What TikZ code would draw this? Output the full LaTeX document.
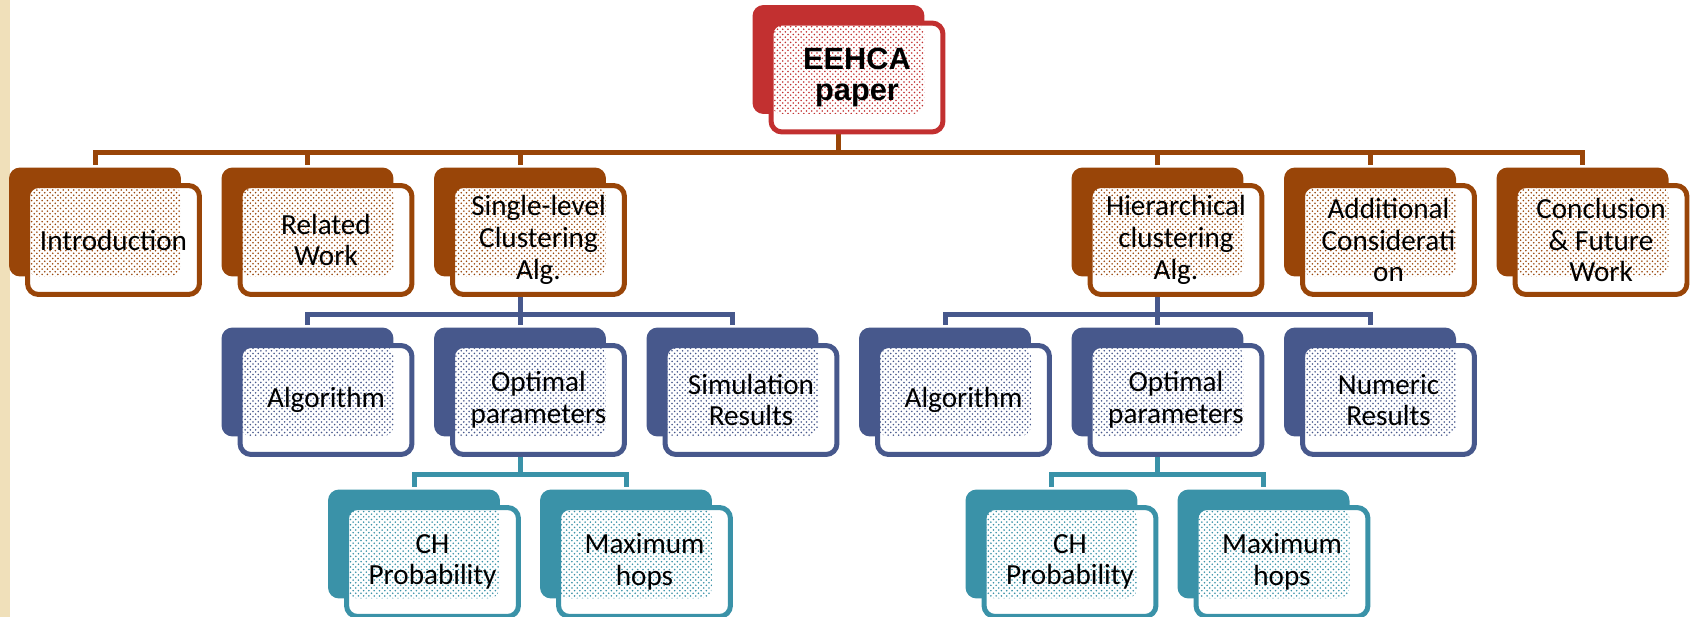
\documentclass[tikz,border=0pt]{standalone}
\usepackage{fontspec}
\setmainfont{Carlito}
\newfontfamily\rootfont{Liberation Sans}
\usepackage{tikz}
\usetikzlibrary{shadows,patterns,backgrounds}

\definecolor{rootred}{RGB}{194,48,48}
\definecolor{lvone}{RGB}{153,69,8}
\definecolor{lvtwo}{RGB}{71,88,140}
\definecolor{lvthree}{RGB}{58,146,168}
\definecolor{stripbeige}{RGB}{240,224,186}

\begin{document}
\begin{tikzpicture}[x=0.02cm,y=-0.02cm,
  tile/.style={draw=#1,fill=white,line width=0.1cm,rounded corners=0.22cm,
    minimum width=3.44cm,minimum height=2.18cm,align=center,inner sep=0pt,
    font=\fontsize{16.6}{18}\selectfont,
    copy shadow={shadow xshift=-0.37cm,shadow yshift=0.36cm,fill=#1,draw=none},
    path picture={\fill[pattern=crosshatch dots,pattern color=#1]
      (path picture bounding box.north west) rectangle
      ([xshift=-0.37cm,yshift=0.36cm]path picture bounding box.south east);}},
  bus/.style={draw=#1,line width=0.1cm}]
\useasboundingbox (0,0) rectangle (1691,617);
\fill[stripbeige] (0,0) rectangle (10,617);
% top
\node[tile=rootred,font=\rootfont\bfseries\fontsize{17.5}{18}\selectfont] (root) at (857,77.5) {EEHCA\\paper};
% chapters
\node[tile=lvone] (intro) at (113.5,240) {Introduction};
\node[tile=lvone] (related) at (326,240) {Related\\Work};
\node[tile=lvone] (single) at (538.5,240) {Single-level\\Clustering\\Alg.};
\node[tile=lvone] (hier) at (1176,240) {Hierarchical\\clustering\\Alg.};
\node[tile=lvone] (addit) at (1388.5,240) {Additional\\Considerati\\on};
\node[tile=lvone] (concl) at (1601,240) {Conclusion\\\& Future\\Work};
% sections
\node[tile=lvtwo] (s-alg) at (326,400) {Algorithm};
\node[tile=lvtwo] (s-opt) at (538.5,400) {Optimal\\parameters};
\node[tile=lvtwo] (s-sim) at (751,400) {Simulation\\Results};
\node[tile=lvtwo] (h-alg) at (963.5,400) {Algorithm};
\node[tile=lvtwo] (h-opt) at (1176,400) {Optimal\\parameters};
\node[tile=lvtwo] (h-num) at (1388.5,400) {Numeric\\Results};
% parameters
\node[tile=lvthree] (s-ch) at (432.5,562) {CH\\Probability};
\node[tile=lvthree] (s-hops) at (644.5,562) {Maximum\\hops};
\node[tile=lvthree] (h-ch) at (1070,562) {CH\\Probability};
\node[tile=lvthree] (h-hops) at (1282,562) {Maximum\\hops};
\begin{scope}[on background layer]
  \draw[bus=lvone] ([xshift=-0.37cm]root.south) -- ++(0,-0.37cm) -| ([xshift=-0.37cm,yshift=0.36cm]intro.north);
  \draw[bus=lvone] ([xshift=-0.37cm]root.south) -- ++(0,-0.37cm) -| ([xshift=-0.37cm,yshift=0.36cm]related.north);
  \draw[bus=lvone] ([xshift=-0.37cm]root.south) -- ++(0,-0.37cm) -| ([xshift=-0.37cm,yshift=0.36cm]single.north);
  \draw[bus=lvone] ([xshift=-0.37cm]root.south) -- ++(0,-0.37cm) -| ([xshift=-0.37cm,yshift=0.36cm]hier.north);
  \draw[bus=lvone] ([xshift=-0.37cm]root.south) -- ++(0,-0.37cm) -| ([xshift=-0.37cm,yshift=0.36cm]addit.north);
  \draw[bus=lvone] ([xshift=-0.37cm]root.south) -- ++(0,-0.37cm) -| ([xshift=-0.37cm,yshift=0.36cm]concl.north);
  \draw[bus=lvtwo] ([xshift=-0.37cm]single.south) -- ++(0,-0.35cm) -| ([xshift=-0.37cm,yshift=0.36cm]s-alg.north);
  \draw[bus=lvtwo] ([xshift=-0.37cm]single.south) -- ++(0,-0.35cm) -| ([xshift=-0.37cm,yshift=0.36cm]s-opt.north);
  \draw[bus=lvtwo] ([xshift=-0.37cm]single.south) -- ++(0,-0.35cm) -| ([xshift=-0.37cm,yshift=0.36cm]s-sim.north);
  \draw[bus=lvtwo] ([xshift=-0.37cm]hier.south) -- ++(0,-0.35cm) -| ([xshift=-0.37cm,yshift=0.36cm]h-alg.north);
  \draw[bus=lvtwo] ([xshift=-0.37cm]hier.south) -- ++(0,-0.35cm) -| ([xshift=-0.37cm,yshift=0.36cm]h-opt.north);
  \draw[bus=lvtwo] ([xshift=-0.37cm]hier.south) -- ++(0,-0.35cm) -| ([xshift=-0.37cm,yshift=0.36cm]h-num.north);
  \draw[bus=lvthree] ([xshift=-0.37cm]s-opt.south) -- ++(0,-0.35cm) -| ([xshift=-0.37cm,yshift=0.36cm]s-ch.north);
  \draw[bus=lvthree] ([xshift=-0.37cm]s-opt.south) -- ++(0,-0.35cm) -| ([xshift=-0.37cm,yshift=0.36cm]s-hops.north);
  \draw[bus=lvthree] ([xshift=-0.37cm]h-opt.south) -- ++(0,-0.35cm) -| ([xshift=-0.37cm,yshift=0.36cm]h-ch.north);
  \draw[bus=lvthree] ([xshift=-0.37cm]h-opt.south) -- ++(0,-0.35cm) -| ([xshift=-0.37cm,yshift=0.36cm]h-hops.north);
\end{scope}
\end{tikzpicture}
\end{document}
